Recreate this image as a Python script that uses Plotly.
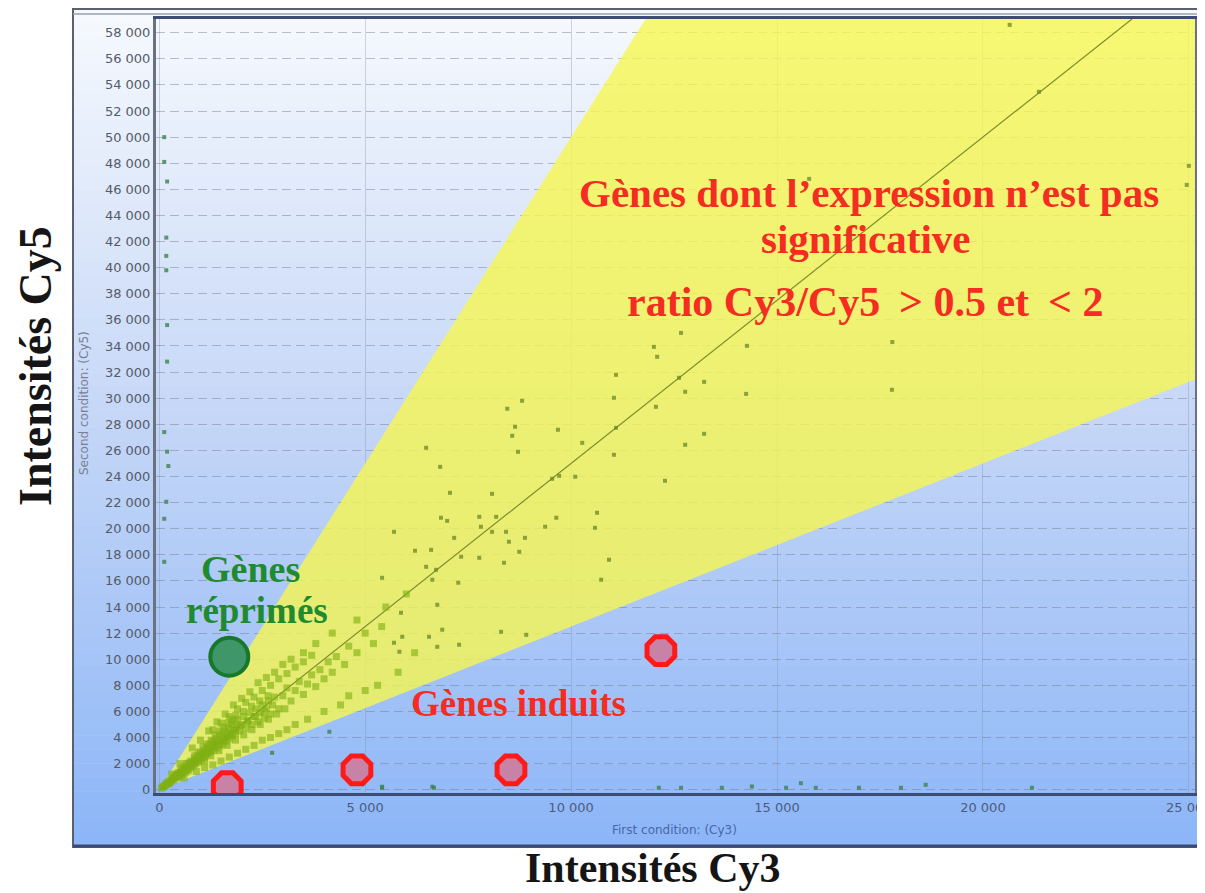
import plotly.graph_objects as go

# ---------------- data ----------------
# normalisation slope of the diagonal and ratio thresholds of the wedge
norm_slope = 2.5
ratio_low = 0.5
ratio_high = 2.0

x_max = 25150
y_max = 59050

# dense cluster near the origin (Cy3, Cy5)
cluster_cy3 = [100, 150, 200, 220, 250, 300, 320, 350, 380, 400, 420, 450, 480, 500, 520, 550, 580, 600, 620, 650,
               680, 700, 720, 750, 780, 800, 820, 850, 880, 900, 920, 950, 980, 1000, 1020, 1050, 1080, 1100, 1120, 1150,
               1180, 1200, 1220, 1250, 1280, 1300, 1320, 1350, 1380, 1400, 1420, 1450, 1480, 1500, 1520, 1550, 1580, 1600,
               1620, 1650, 1680, 1700, 1720, 1750, 1780, 1800, 1820, 1850, 1880, 1900, 1950, 2000, 2050, 2100, 2150, 2200,
               2250, 2300, 2350, 2400, 2450, 2500, 2550, 2600, 2650, 2700, 2750, 2800, 2900, 3000, 3100, 3200, 3300, 3400,
               3500, 3600, 3700, 3800, 3900, 4000, 4100, 4200, 4300, 4500, 4600, 4800, 5000, 5200, 5400,
               300, 500, 600, 800, 900, 1000, 1100, 1200, 1300, 1400, 1500, 1600, 1700, 1800, 1900, 2000, 2100, 2200, 2300,
               2400, 2500, 2600, 2700, 2800, 2900, 3000, 3100, 3200, 3300, 3500, 3600, 3800, 4000, 4200, 4400, 4600, 4800,
               5000, 5300, 5500, 5800, 6000, 6200,
               50, 80, 120, 160, 180, 240, 260, 280, 340, 360, 400, 440, 460, 540, 560, 640, 660, 700, 740, 760, 840, 860,
               940, 960, 1040, 1060, 1140, 1160, 1240, 1260, 1340, 1360, 1440, 1460, 1540, 1560, 1640, 1660, 1740, 1760,
               1840, 1860, 1960, 2040, 2140, 2240, 2340, 2440, 2540, 2640,
               1300, 1500, 1700, 1900, 2100, 2300, 2500, 2700, 2900, 3100, 3300, 3500, 3700, 1100, 1250, 1450, 1650, 1850,
               2050, 2250, 2450, 2650, 2850, 3050]
cluster_cy5 = [250, 400, 450, 600, 550, 700, 900, 800, 1000, 900, 1100, 1200, 1000, 1300, 1500, 1200, 1400, 1600, 1800, 1500,
               1700, 2000, 1600, 1900, 2200, 1800, 2100, 2400, 2000, 2300, 2600, 2200, 2500, 2800, 2300, 2700, 3000, 2500, 2900, 3200,
               2800, 3100, 3500, 2900, 3300, 3700, 3000, 3500, 3900, 3200, 3600, 4100, 3400, 3800, 4300, 3500, 4000, 4500,
               3700, 4200, 4700, 3900, 4400, 5000, 4100, 4600, 5200, 4300, 4800, 5400, 4500, 5000, 5600, 4700, 5300, 5900,
               5000, 5600, 6200, 5200, 5900, 6500, 5500, 6200, 6800, 5800, 6500, 7100, 6200, 7200, 7800, 6800, 7600, 8300,
               7300, 8100, 8800, 7900, 9200, 8500, 9800, 9000, 10200, 9600, 11000, 10500, 12000, 11200, 12500,
               1200, 2000, 900, 3200, 1400, 3800, 1700, 4500, 1900, 5200, 2200, 5800, 2500, 6500, 2800, 7000, 3100, 7500, 3400,
               8200, 3800, 8600, 4000, 9000, 4300, 9600, 4600, 10000, 5000, 10500, 5400, 11200, 6000, 12000, 6500, 7200, 13000,
               7600, 8000, 14000, 9000, 15000, 10500,
               120, 200, 260, 350, 520, 480, 720, 620, 750, 980, 1150, 950, 1300, 1100, 1650, 1350, 2000, 1450, 2100, 1700, 1900, 2600,
               2100, 2900, 2500, 3300, 2700, 3500, 3000, 3800, 3300, 4200, 3500, 4500, 3800, 4800, 4000, 5100, 4200, 5400,
               4600, 5700, 4900, 6000, 5200, 6400, 5600, 6800, 6000, 7200,
               4600, 5100, 5600, 6200, 6700, 7100, 7600, 8000, 8500, 8900, 9400, 9800, 10300, 2200, 2600, 3000, 3400, 3800,
               4200, 4600, 5000, 5400, 5800, 6200]

# sparse genes inside the wedge
sparse_cy3 = [12670, 12010, 12090, 14270, 11090, 13230, 12770, 11040, 8810, 8450, 8640, 8570, 9680, 10270, 6480, 8710,
              6820, 9540, 9710, 10100, 12280, 7060, 8080, 6840, 6990, 7770, 8180, 9640, 10630, 9370, 10580, 5700, 7810,
              8080, 8420, 7160, 8880, 8490, 6210, 6600, 7330, 7770, 8740, 8370, 10920, 6480, 6720, 5410, 6630, 7260,
              10730, 5870, 6750, 8300, 8910, 6870, 6550, 5700, 5900, 7280, 6750, 5830,
              20650, 21360, 15780, 25000, 24950, 12620, 12060, 14250, 17790, 11090, 13230, 12770, 11040, 17800]
sparse_cy5 = [35000, 33930, 33170, 34010, 31790, 31250, 30490, 30030, 29800, 29190, 27810, 27120, 27580, 26580, 26200, 25890,
              24740, 23820, 24050, 23980, 23670, 22750, 22670, 20840, 20600, 20910, 20910, 20840, 21220, 20150, 20070, 19760, 20150,
              19760, 19760, 19300, 19300, 19000, 18310, 18380, 17850, 17770, 18230, 17390, 17620, 17080, 16850, 16240, 16090, 15860,
              16090, 13560, 14170, 12100, 11870, 12260, 11720, 11260, 11720, 11110, 10950, 10570,
              58600, 53470, 46800, 47800, 46340, 31560, 29340, 30330, 30640, 27730, 27270, 26430, 25660, 34300]

# genes outside the wedge (along the axes)
outer_cy3 = [120, 120, 190, 170, 170, 170, 190, 190, 120, 190, 220, 170, 120, 120,
             5410, 6670, 12130, 12670, 13660, 14390, 15220, 15580, 15940, 16990, 18010, 18610, 21190,
             5410, 6630, 4130, 2740]
outer_cy5 = [50000, 48100, 46600, 42300, 40900, 39800, 35600, 32800, 27400, 25900, 24800, 22060, 20760, 17460,
             150, 150, 150, 150, 150, 250, 150, 500, 150, 150, 150, 380, 150,
             230, 230, 4440, 2830]

# highlighted genes
induced_cy3 = [1650, 4800, 8540, 12180]
induced_cy5 = [230, 1530, 1530, 10650]
repressed_cy3 = [1700]
repressed_cy5 = [10190]

# ---------------- layout helpers ----------------
OFF = 8                      # the page body margin shifts the figure by 8 px
W, H = 1205 - OFF, 893 - OFF
PX0, PX1 = 156, 1195         # plot area horizontal pixels (in the reference picture)
PY0, PY1 = 19, 793           # plot area vertical pixels (top, bottom)


def px(xp):
    return (xp - PX0) / (PX1 - PX0)


def py(yp):
    return (PY1 - yp) / (PY1 - PY0)


fig = go.Figure()

# wedge of non significant ratio
up = norm_slope * ratio_high
lo = norm_slope * ratio_low
wedge_x = [0, y_max / up, x_max, x_max, 0]
wedge_y = [0, y_max, y_max, lo * x_max, 0]
fig.add_trace(go.Scatter(x=wedge_x, y=wedge_y, mode="lines", fill="toself",
                         fillcolor="rgba(246,246,80,0.80)", line=dict(width=0),
                         hoverinfo="skip", showlegend=False))

# normalisation diagonal
fig.add_trace(go.Scatter(x=[0, y_max / norm_slope], y=[0, y_max], mode="lines",
                         line=dict(color="#7d8c2c", width=1.2), hoverinfo="skip", showlegend=False))

# genes
fig.add_trace(go.Scatter(x=cluster_cy3, y=cluster_cy5, mode="markers",
                         marker=dict(symbol="square", size=7, color="rgba(128,176,20,0.62)", line=dict(width=0)),
                         showlegend=False))
fig.add_trace(go.Scatter(x=sparse_cy3, y=sparse_cy5, mode="markers",
                         marker=dict(symbol="square", size=4, color="rgba(105,135,40,0.75)", line=dict(width=0)),
                         showlegend=False))
fig.add_trace(go.Scatter(x=outer_cy3, y=outer_cy5, mode="markers",
                         marker=dict(symbol="square", size=4, color="rgba(60,130,80,0.8)", line=dict(width=0)),
                         showlegend=False))

# highlighted genes
fig.add_trace(go.Scatter(x=induced_cy3, y=induced_cy5, mode="markers",
                         marker=dict(symbol="octagon", size=30, color="rgb(200,130,165)",
                                     line=dict(color="#ff1a1a", width=5)),
                         showlegend=False))
fig.add_trace(go.Scatter(x=repressed_cy3, y=repressed_cy5, mode="markers",
                         marker=dict(symbol="circle", size=38, color="rgb(62,150,105)",
                                     line=dict(color="#17782c", width=4)),
                         showlegend=False))

# ---------------- background gradient and frame ----------------
shapes = []
top_c = (247, 250, 254)
mid_c = (196, 214, 247)
bot_c = (140, 182, 247)
y_top, y_mid, y_bot = 9, 430, 847
nb = 60
for i in range(nb):
    a = y_top + (y_bot - y_top) * i / nb
    b = y_top + (y_bot - y_top) * (i + 1) / nb
    c = (a + b) / 2
    if c < y_mid:
        t = (c - y_top) / (y_mid - y_top)
        col = tuple(int(top_c[k] + (mid_c[k] - top_c[k]) * t) for k in range(3))
    else:
        t = (c - y_mid) / (y_bot - y_mid)
        col = tuple(int(mid_c[k] + (bot_c[k] - mid_c[k]) * t) for k in range(3))
    shapes.append(dict(type="rect", xref="paper", yref="paper", layer="below",
                       x0=px(73), x1=px(1212), y0=py(b + 0.6), y1=py(a),
                       fillcolor="rgb(%d,%d,%d)" % col, line=dict(width=0)))
# frame
shapes.append(dict(type="rect", xref="paper", yref="paper", layer="below",
                   x0=px(73), x1=px(1215), y0=py(847), y1=py(9),
                   fillcolor="rgba(0,0,0,0)", line=dict(color="#5a6070", width=2)))
shapes.append(dict(type="line", xref="paper", yref="paper", layer="below",
                   x0=px(73), x1=px(1215), y0=py(14), y1=py(14),
                   line=dict(color="#9aa0aa", width=1.5)))
shapes.append(dict(type="line", xref="paper", yref="paper", layer="below",
                   x0=px(73), x1=px(1215), y0=py(846), y1=py(846),
                   line=dict(color="#3a4a78", width=3)))

serif = "Liberation Serif"
red = "#f42c22"
green = "#1f8a30"
annotations = [
    dict(text="<b>Gènes dont l’expression n’est pas</b>", x=px(869), y=py(193),
         font=dict(family=serif, size=41, color=red)),
    dict(text="<b>significative</b>", x=px(866), y=py(239),
         font=dict(family=serif, size=41, color=red)),
    dict(text="<b>ratio Cy3/Cy5 \u2009> 0.5 et \u2009< 2</b>", x=px(865), y=py(302),
         font=dict(family=serif, size=42, color=red)),
    dict(text="<b>Gènes</b>", x=px(250), y=py(569),
         font=dict(family=serif, size=38, color=green)),
    dict(text="<b>réprimés</b>", x=px(257), y=py(610),
         font=dict(family=serif, size=37, color=green)),
    dict(text="<b>Gènes induits</b>", x=px(518), y=py(703),
         font=dict(family=serif, size=37, color=red)),
    dict(text="<b>Intensités Cy3</b>", x=px(653), y=py(868),
         font=dict(family=serif, size=42, color="#151515")),
    dict(text="<b>Intensités Cy5</b>", x=px(35), y=py(366), textangle=-90,
         font=dict(family=serif, size=46, color="#151515")),
    dict(text="First condition: (Cy3)", x=px(674), y=py(830),
         font=dict(family="DejaVu Sans", size=12, color="#4a66a8")),
    dict(text="Second condition: (Cy5)", x=px(84), y=py(403), textangle=-90,
         font=dict(family="DejaVu Sans", size=12, color="#7a8090")),
]
for a in annotations:
    a.update(xref="paper", yref="paper", showarrow=False, xanchor="center", yanchor="middle")

fig.update_layout(
    width=W, height=H,
    margin=dict(l=PX0 - OFF, r=W - (PX1 - OFF), t=PY0 - OFF, b=H - (PY1 - OFF), pad=0,
                autoexpand=False),
    paper_bgcolor="white",
    plot_bgcolor="rgba(0,0,0,0)",
    separators=", ",
    shapes=shapes,
    annotations=annotations,
    showlegend=False,
)
fig.update_xaxes(range=[-80, x_max], dtick=5000, tick0=0, tickformat=",d", ticklabeloverflow="allow",
                 automargin=False,
                 showgrid=True, gridcolor="rgba(130,140,165,0.35)", gridwidth=1,
                 zeroline=False, showline=True, linecolor="#3c4c72", linewidth=3, mirror=True,
                 ticks="", tickfont=dict(family="DejaVu Sans", size=13, color="#4d5c80"))
fig.update_yaxes(range=[-250, y_max], dtick=2000, tick0=0, tickformat=",d", automargin=False,
                 showgrid=True, gridcolor="rgba(110,120,140,0.45)", gridwidth=1, griddash="9px,5px",
                 zeroline=False, showline=True, linecolor="#6a7282", linewidth=3, mirror=True,
                 ticks="", tickfont=dict(family="DejaVu Sans", size=13, color="#555b68"))

fig.write_html("out.html")
